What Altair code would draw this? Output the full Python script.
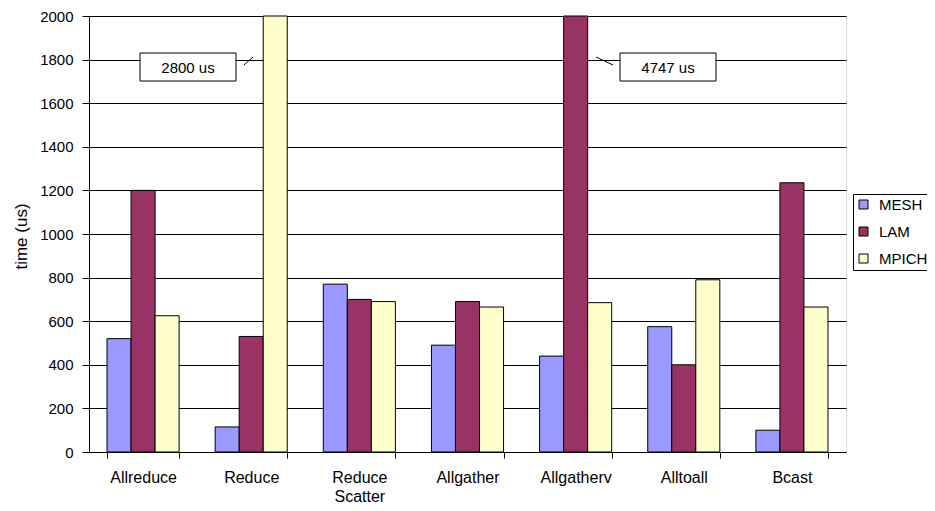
import altair as alt
import pandas as pd

# ---- data ----
categories = ["Allreduce", "Reduce", "Reduce Scatter", "Allgather",
              "Allgatherv", "Alltoall", "Bcast"]
series = ["MESH", "LAM", "MPICH"]
mesh = [520, 115, 770, 490, 440, 575, 100]
lam = [1200, 530, 700, 690, 4747, 400, 1235]
mpich = [625, 2800, 690, 665, 685, 790, 665]
colors = ["#9999FF", "#993366", "#FFFFCC"]
y_ticks = [0, 200, 400, 600, 800, 1000, 1200, 1400, 1600, 1800, 2000]
callout_labels = ["2800 us", "4747 us"]

FONT = "Liberation Sans"

rows = []
for s, vals in zip(series, [mesh, lam, mpich]):
    for c, v in zip(categories, vals):
        rows.append({"op": c, "impl": s, "time": v})
df = pd.DataFrame(rows)

W, H = 757, 436

bars = alt.Chart(df).mark_bar(stroke="black", strokeWidth=1).encode(
    x=alt.X(
        "op:N", sort=categories,
        scale=alt.Scale(paddingInner=1 / 3, paddingOuter=1 / 6),
        axis=alt.Axis(
            title=None, labelAngle=0, tickBand="extent", grid=False,
            labelExpr="split(datum.label, ' ')", labelFontSize=16,
            labelFont=FONT, labelColor="black", tickColor="black",
            domainColor="black", tickSize=6, labelPadding=11,
            labelLineHeight=19,
        ),
    ),
    xOffset=alt.XOffset("impl:N", sort=series,
                        scale=alt.Scale(paddingInner=0, paddingOuter=0)),
    y=alt.Y(
        "time:Q",
        scale=alt.Scale(domain=[0, 2000], clamp=True, nice=False),
        axis=alt.Axis(
            values=y_ticks, format="d", title="time (us)", titleFont=FONT,
            titleFontSize=17, titleFontWeight="normal", titleColor="black",
            titleX=-68, titleY=220, titleBaseline="middle", titleAlign="center",
            labelFontSize=15, labelFont=FONT, labelColor="black",
            tickColor="black", tickSize=7, labelPadding=9,
            domainColor="black", gridColor="black", gridWidth=1,
        ),
    ),
    color=alt.Color(
        "impl:N", sort=series,
        scale=alt.Scale(domain=series, range=colors),
        legend=alt.Legend(
            title=None, orient="none", legendX=764, legendY=178,
            strokeColor="black", fillColor="white", padding=3,
            symbolType="square", symbolSize=81, symbolStrokeColor="black",
            symbolStrokeWidth=1, labelFontSize=15, labelFont=FONT,
            labelColor="black", labelOffset=8, rowPadding=11,
        ),
    ),
)


def callout(label, bx, by, lx1, ly1, lx2, ly2):
    d = pd.DataFrame({"label": [label]})
    base = alt.Chart(d)
    box = base.mark_rect(fill="white", stroke="black", strokeWidth=1).encode(
        x=alt.value(bx), x2=alt.value(bx + 96),
        y=alt.value(by), y2=alt.value(by + 28),
    )
    txt = base.mark_text(fontSize=15, font=FONT, color="black").encode(
        x=alt.value(bx + 48), y=alt.value(by + 15), text="label:N"
    )
    line = base.mark_rule(color="black", strokeWidth=1).encode(
        x=alt.value(lx1), x2=alt.value(lx2),
        y=alt.value(ly1), y2=alt.value(ly2),
    )
    return [box, txt, line]


layers = [bars]
layers += callout(callout_labels[0], 51, 37, 155, 49, 164, 41)
layers += callout(callout_labels[1], 531, 37, 507, 41, 524, 49)

chart = alt.layer(*layers).properties(
    width=W, height=H,
    autosize=alt.AutoSizeParams(type="none"),
    padding={"left": 81, "top": 8, "right": 81, "bottom": 51},
).configure_view(stroke="#999999", strokeWidth=1).configure(font=FONT)

chart.save("out.html", embed_options={"renderer": "svg", "actions": False})
